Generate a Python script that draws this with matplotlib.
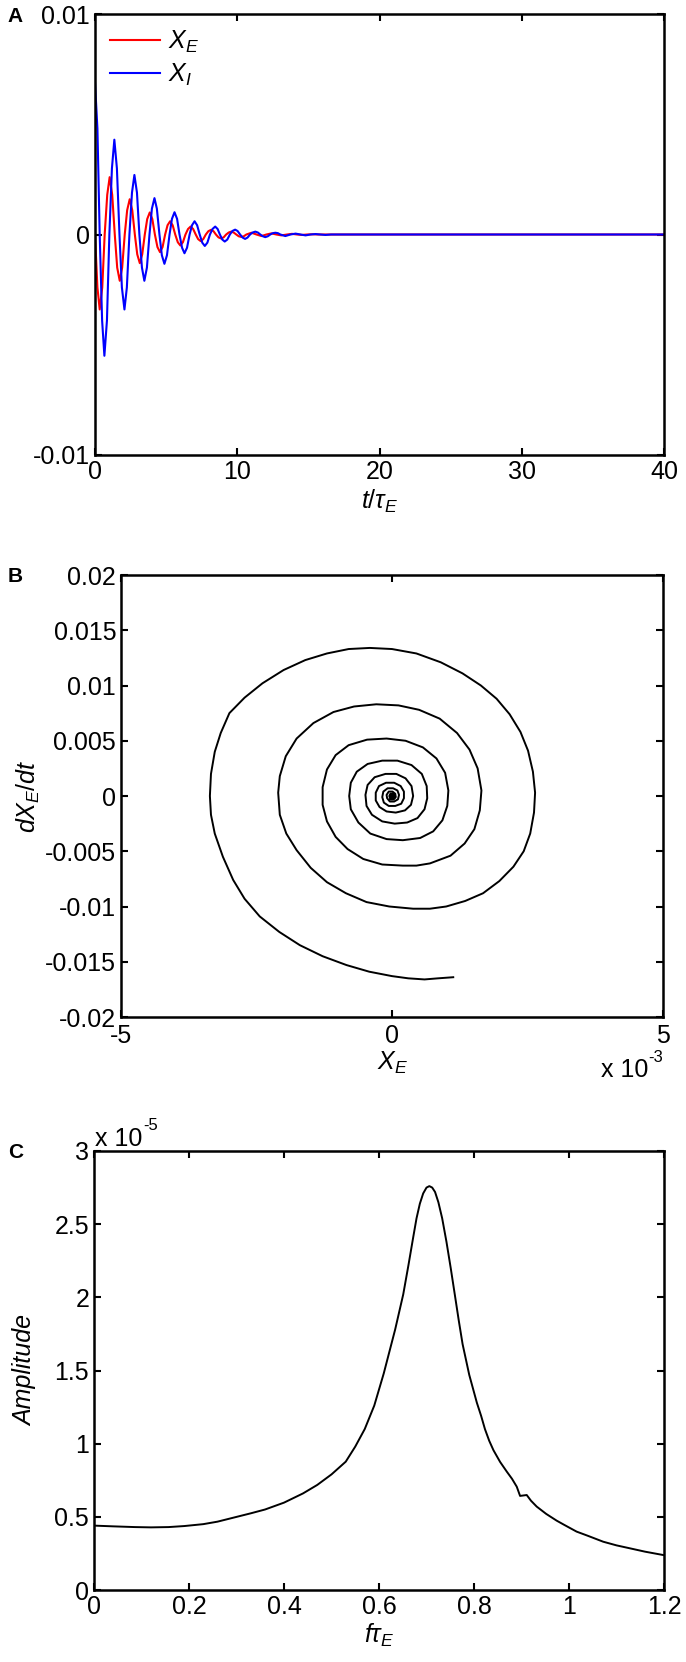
import matplotlib
matplotlib.use('Agg')
import matplotlib.pyplot as plt
import numpy as np

plt.rcParams['font.family'] = 'Liberation Sans'
plt.rcParams['mathtext.fontset'] = 'custom'
plt.rcParams['mathtext.rm'] = 'Liberation Sans'
plt.rcParams['mathtext.it'] = 'Liberation Sans:italic'
plt.rcParams['axes.unicode_minus'] = False

# Panel A: X_E and X_I versus t/tau_E  (t, value)
xe_pts = [(0.00, 0.0), (0.17, -0.0024), (0.33, -0.0034), (0.51, -0.0024), (0.68, 0.0),
          (0.86, 0.0018), (1.03, 0.0026), (1.21, 0.0018), (1.39, 0.0),
          (1.56, -0.0015), (1.74, -0.0021), (1.91, -0.0015), (2.09, 0.0),
          (2.26, 0.0011), (2.44, 0.0016), (2.62, 0.0011), (2.80, 0.0),
          (2.97, -0.0009), (3.15, -0.0013), (3.32, -0.0009), (3.50, 0.0),
          (3.67, 0.0007), (3.85, 0.0010), (4.03, 0.0007), (4.21, 0.0),
          (4.39, -0.00057), (4.57, -0.0008), (4.75, -0.00057), (4.93, 0.0),
          (5.10, 0.00042), (5.28, 0.0006), (5.46, 0.00042), (5.64, 0.0),
          (5.82, -0.00035), (6.00, -0.0005), (6.18, -0.00035), (6.36, 0.0),
          (6.54, 0.00025), (6.72, 0.00036), (6.90, 0.00025), (7.08, 0.0),
          (7.25, -0.00021), (7.43, -0.0003), (7.61, -0.00021), (7.79, 0.0),
          (7.97, 0.00015), (8.15, 0.00021), (8.33, 0.00015), (8.5, 0.0),
          (8.68, -0.00013), (8.86, -0.00018), (9.04, -0.00013), (9.22, 0.0),
          (9.40, 0.00009), (9.57, 0.00013), (9.75, 0.00009), (9.93, 0.0),
          (10.1, -0.00008), (10.28, -0.00011), (10.46, -0.00008), (10.64, 0.0),
          (11.0, 0.00008), (11.35, 0.0), (11.7, -0.00007), (12.05, 0.0),
          (12.4, 0.00005), (12.75, 0.0), (13.1, -0.00004), (13.5, 0.0),
          (13.85, 0.00003), (14.2, 0.0), (14.55, -0.00002), (14.9, 0.0),
          (15.3, 0.00001), (15.7, 0.0), (40.0, 0.0)]

xi_pts = [(0.00, 0.0069), (0.17, 0.0048), (0.33, 0.0), (0.50, -0.0039), (0.66, -0.0055),
          (0.84, -0.0039), (1.01, 0.0), (1.19, 0.0030), (1.36, 0.0043),
          (1.54, 0.0030), (1.72, 0.0), (1.89, -0.0024), (2.07, -0.0034),
          (2.24, -0.0024), (2.42, 0.0), (2.60, 0.0019), (2.77, 0.0027),
          (2.95, 0.0019), (3.12, 0.0), (3.30, -0.0015), (3.47, -0.0021),
          (3.65, -0.0015), (3.83, 0.0), (4.00, 0.00117), (4.18, 0.00165),
          (4.35, 0.00117), (4.53, 0.0), (4.70, -0.00094), (4.88, -0.00133),
          (5.06, -0.00094), (5.24, 0.0), (5.41, 0.00071), (5.59, 0.00101),
          (5.77, 0.00071), (5.94, 0.0), (6.12, -0.0006), (6.29, -0.00085),
          (6.47, -0.0006), (6.65, 0.0), (6.82, 0.00042), (7.00, 0.0006),
          (7.18, 0.00042), (7.36, 0.0), (7.54, -0.00037), (7.72, -0.00052),
          (7.90, -0.00037), (8.08, 0.0), (8.26, 0.00025), (8.45, 0.00036),
          (8.62, 0.00025), (8.78, 0.0), (8.95, -0.00023), (9.12, -0.00032),
          (9.30, -0.00023), (9.48, 0.0), (9.66, 0.00016), (9.85, 0.00022),
          (10.02, 0.00016), (10.2, 0.0), (10.38, -0.00014), (10.55, -0.0002),
          (10.72, -0.00014), (10.9, 0.0), (11.08, 0.00009), (11.27, 0.00013),
          (11.45, 0.00009), (11.62, 0.0), (11.8, -0.00008), (11.97, -0.00012),
          (12.15, -0.00008), (12.32, 0.0), (12.5, 0.00006), (12.68, 0.00008),
          (12.86, 0.00006), (13.03, 0.0), (13.38, -0.00007), (13.74, 0.0),
          (14.1, 0.00004), (14.45, 0.0), (14.8, -0.00004), (15.15, 0.0),
          (15.5, 0.00002), (15.85, 0.0), (16.2, -0.00002), (16.6, 0.0), (40.0, 0.0)]

# Panel B: phase portrait (X_E in units of 1e-3, dX_E/dt)
spiral_pts = [(1.13, -0.0164), (0.85, -0.0165), (0.60, -0.0166), (0.30, -0.0165),
              (0.00, -0.0163), (-0.42, -0.0159), (-0.84, -0.0153), (-1.28, -0.0145),
              (-1.70, -0.0135), (-2.08, -0.0123), (-2.44, -0.0109), (-2.72, -0.0093),
              (-2.93, -0.0076), (-3.12, -0.0055), (-3.27, -0.0034), (-3.34, -0.0017),
              (-3.36, 0.0000), (-3.34, 0.0020), (-3.27, 0.0040), (-3.16, 0.0057),
              (-3.00, 0.0075), (-2.72, 0.0089), (-2.39, 0.0102), (-2.00, 0.0114),
              (-1.60, 0.0123), (-1.20, 0.0129), (-0.80, 0.0133), (-0.41, 0.0134),
              (0.00, 0.0133), (0.45, 0.0129), (0.90, 0.0121), (1.30, 0.0111),
              (1.64, 0.0100), (1.93, 0.0088), (2.17, 0.0074), (2.37, 0.0058),
              (2.51, 0.0041), (2.60, 0.0022), (2.64, 0.0003), (2.62, -0.0015),
              (2.55, -0.0034), (2.43, -0.0050), (2.24, -0.0064), (1.98, -0.0077),
              (1.68, -0.0088), (1.35, -0.0095), (1.00, -0.0100), (0.70, -0.0102),
              (0.39, -0.0102), (-0.05, -0.0100), (-0.47, -0.0096), (-0.85, -0.0088),
              (-1.20, -0.0078), (-1.50, -0.0065), (-1.76, -0.0049), (-1.95, -0.0034),
              (-2.07, -0.0017), (-2.10, 0.0003), (-2.07, 0.0018), (-1.96, 0.0036),
              (-1.76, 0.0052), (-1.45, 0.0066), (-1.08, 0.0076), (-0.70, 0.0081),
              (-0.29, 0.0083), (0.12, 0.0082), (0.50, 0.0078), (0.88, 0.0070),
              (1.20, 0.0057), (1.43, 0.0042), (1.58, 0.0025), (1.65, 0.0005),
              (1.62, -0.0013), (1.52, -0.0030), (1.34, -0.0043), (1.08, -0.0054),
              (0.70, -0.0061), (0.45, -0.0063), (0.20, -0.0063), (-0.18, -0.0062),
              (-0.53, -0.0057), (-0.82, -0.0048), (-1.04, -0.0037), (-1.20, -0.0023),
              (-1.28, -0.0008), (-1.28, 0.0008), (-1.20, 0.0024), (-1.04, 0.0037),
              (-0.80, 0.0046), (-0.46, 0.0051), (-0.10, 0.0052), (0.25, 0.0050),
              (0.57, 0.0044), (0.82, 0.0034), (0.98, 0.0021), (1.04, 0.0005),
              (1.02, -0.0009), (0.93, -0.0022), (0.76, -0.0032), (0.52, -0.0038),
              (0.20, -0.0040), (-0.10, -0.0039), (-0.40, -0.0034), (-0.62, -0.0024),
              (-0.76, -0.0012), (-0.79, 0.0000), (-0.76, 0.0012), (-0.65, 0.0022),
              (-0.45, 0.0029), (-0.18, 0.0032), (0.10, 0.0032), (0.36, 0.0028),
              (0.55, 0.0020), (0.64, 0.0009), (0.65, -0.0002), (0.60, -0.0012),
              (0.47, -0.0020), (0.28, -0.0024), (0.05, -0.0025), (-0.18, -0.0023),
              (-0.37, -0.0017), (-0.47, -0.0009), (-0.49, 0.0001), (-0.45, 0.0010),
              (-0.32, 0.0017), (-0.12, 0.0020), (0.08, 0.0020), (0.25, 0.0016),
              (0.36, 0.0009), (0.39, 0.0000), (0.35, -0.0008), (0.24, -0.0013),
              (0.07, -0.0015), (-0.10, -0.0014), (-0.23, -0.0010), (-0.30, -0.0004),
              (-0.30, 0.0003), (-0.24, 0.0009), (-0.11, 0.0012), (0.04, 0.0012),
              (0.16, 0.0009), (0.22, 0.0004), (0.22, -0.0002), (0.17, -0.0007),
              (0.06, -0.0009), (-0.06, -0.0009), (-0.15, -0.0006), (-0.18, -0.0001),
              (-0.16, 0.0004), (-0.08, 0.0007), (0.02, 0.0007), (0.10, 0.0005),
              (0.13, 0.0001), (0.11, -0.0003), (0.04, -0.0005), (-0.04, -0.0005),
              (-0.09, -0.0002), (-0.10, 0.0001), (-0.06, 0.0004), (0.01, 0.0004),
              (0.06, 0.0002), (0.07, -0.0001), (0.03, -0.0003), (-0.03, -0.0003),
              (-0.05, 0.0000), (-0.03, 0.0002), (0.01, 0.0002), (0.04, 0.0000),
              (0.01, -0.0001), (-0.02, 0.0000), (0.00, 0.0001), (0.00, 0.0000)]

# Panel C: amplitude spectrum (f*tau_E, amplitude in units of 1e-5)
spec_pts = [(0.0, 0.44), (0.04, 0.435), (0.086, 0.43), (0.12, 0.428), (0.157, 0.43),
            (0.19, 0.437), (0.23, 0.45), (0.26, 0.467), (0.33, 0.524), (0.36, 0.55),
            (0.40, 0.597), (0.44, 0.66), (0.47, 0.718), (0.50, 0.79), (0.53, 0.877),
            (0.55, 0.98), (0.57, 1.10), (0.59, 1.26), (0.61, 1.48), (0.634, 1.78),
            (0.651, 2.02), (0.662, 2.22), (0.672, 2.41), (0.679, 2.54), (0.686, 2.64),
            (0.693, 2.71), (0.700, 2.75), (0.706, 2.76), (0.712, 2.75), (0.718, 2.72),
            (0.725, 2.65), (0.733, 2.54), (0.742, 2.38), (0.751, 2.20), (0.76, 2.01),
            (0.768, 1.84), (0.776, 1.68), (0.79, 1.47), (0.806, 1.28), (0.815, 1.19),
            (0.823, 1.10), (0.832, 1.02), (0.841, 0.955), (0.855, 0.875), (0.869, 0.809),
            (0.88, 0.76), (0.89, 0.706), (0.897, 0.643), (0.911, 0.649), (0.92, 0.61),
            (0.932, 0.57), (0.952, 0.52), (0.974, 0.474), (0.99, 0.445), (1.016, 0.399),
            (1.04, 0.37), (1.072, 0.33), (1.10, 0.305), (1.128, 0.285), (1.16, 0.262),
            (1.2, 0.238)]

fig = plt.figure(figsize=(6.86, 16.62), dpi=100)
W, H = 686, 1662


def add_ax(l, t, r, b):
    return fig.add_axes([l / W, 1 - b / H, (r - l) / W, (b - t) / H])


def style(ax):
    for s in ax.spines.values():
        s.set_linewidth(1.8)
    ax.tick_params(direction='in', length=5, width=1.5, top=True, right=True,
                   labelsize=18, pad=3.5)


# ---- A ----
axA = add_ax(95, 14, 664, 455)
t_e, v_e = zip(*xe_pts)
t_i, v_i = zip(*xi_pts)
axA.plot(t_e, v_e, color='red', lw=1.5, label='$X_E$')
axA.plot(t_i, v_i, color='blue', lw=1.5, label='$X_I$')
axA.set_xlim(0, 40)
axA.set_ylim(-0.01, 0.01)
axA.set_xticks([0, 10, 20, 30, 40])
axA.set_yticks([-0.01, 0, 0.01])
axA.set_yticklabels(['-0.01', '0', '0.01'])
axA.set_xlabel(r'$t/\tau_E$', fontsize=18, labelpad=3)
style(axA)
axA.legend(loc='upper left', frameon=False, fontsize=18, handlelength=2.0,
           borderaxespad=0.2, labelspacing=0.25, handletextpad=0.3)
fig.text(7 / W, 1 - 17 / H, 'A', fontsize=15, fontweight='bold', va='center')

# ---- B ----
axB = add_ax(121, 575, 663, 1017)
xs, ys = zip(*spiral_pts)
axB.plot(np.array(xs) * 1e-3, ys, color='black', lw=1.4)
axB.plot([0], [0], 'o', color='black', ms=4)
axB.set_xlim(-5e-3, 5e-3)
axB.set_ylim(-0.02, 0.02)
axB.set_xticks([-5e-3, 0, 5e-3])
axB.set_xticklabels(['-5', '0', '5'])
yb = [-0.02, -0.015, -0.01, -0.005, 0, 0.005, 0.01, 0.015, 0.02]
axB.set_yticks(yb)
axB.set_yticklabels(['-0.02', '-0.015', '-0.01', '-0.005', '0', '0.005', '0.01', '0.015', '0.02'])
axB.set_xlabel('$X_E$', fontsize=18, labelpad=1)
axB.set_ylabel('$dX_E/dt$', fontsize=18, labelpad=2)
style(axB)
axB.tick_params(axis='x', pad=5)
fig.text(8 / W, 1 - 576 / H, 'B', fontsize=15, fontweight='bold', va='center')
fig.text(648 / W, 1 - 1070 / H, 'x 10', fontsize=18, va='center', ha='right')
fig.text(648 / W, 1 - 1058 / H, '-3', fontsize=12, va='center', ha='left')

# ---- C ----
axC = add_ax(94, 1151, 664, 1590)
fx, fy = zip(*spec_pts)
axC.plot(np.array(fx), np.array(fy) * 1e-5, color='black', lw=1.4)
axC.set_xlim(0, 1.2)
axC.set_ylim(0, 3e-5)
axC.set_xticks([0, 0.2, 0.4, 0.6, 0.8, 1.0, 1.2])
axC.set_xticklabels(['0', '0.2', '0.4', '0.6', '0.8', '1', '1.2'])
axC.set_yticks([0, 0.5e-5, 1e-5, 1.5e-5, 2e-5, 2.5e-5, 3e-5])
axC.set_yticklabels(['0', '0.5', '1', '1.5', '2', '2.5', '3'])
axC.set_xlabel(r'$f\tau_E$', fontsize=18, labelpad=2)
axC.set_ylabel('Amplitude', fontsize=18, style='italic', labelpad=12)
style(axC)
fig.text(8 / W, 1 - 1152 / H, 'C', fontsize=15, fontweight='bold', va='center')
fig.text(95 / W, 1 - 1139 / H, 'x 10', fontsize=18, va='center', ha='left')
fig.text(143 / W, 1 - 1126 / H, '-5', fontsize=12, va='center', ha='left')

fig.savefig('out.png', dpi=100)
